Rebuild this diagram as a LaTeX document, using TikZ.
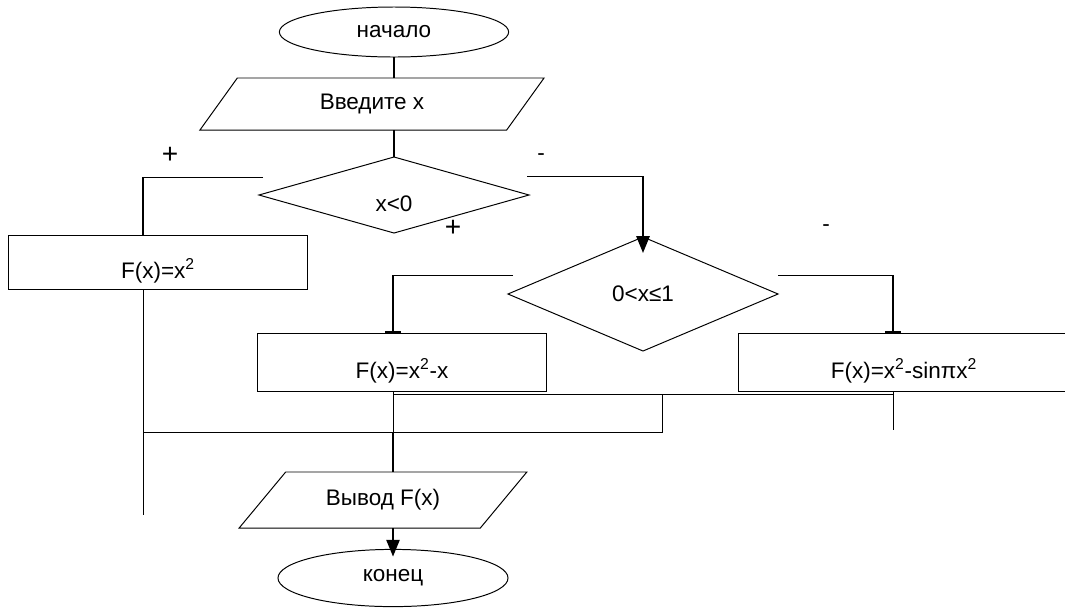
\documentclass[tikz,border=0pt]{standalone}
\usepackage{fontspec}
\setmainfont{Liberation Sans}
\usetikzlibrary{shapes.geometric,arrows.meta}

\begin{document}
\begin{tikzpicture}[x=0.025cm,y=-0.025cm,
    line width=0.7pt,
    every node/.style={font=\fontsize{16}{19}\selectfont},
    term/.style={ellipse,draw,minimum width=5.73cm,minimum height=1.25cm,inner sep=0pt,outer sep=0pt},
    io/.style={trapezium,draw,trapezium stretches=true,inner sep=0pt,outer sep=0pt},
    cond/.style={diamond,draw,aspect=3.5,minimum width=6.75cm,inner sep=0pt,outer sep=0pt},
    proc/.style={rectangle,draw,minimum height=1.45cm,inner sep=0pt,outer sep=0pt,text height=0.8cm,text depth=0pt},
    sign/.style={font=\fontsize{20}{24}\selectfont},
    flow/.style={line width=1.4pt},
    tip/.style={-{Triangle[length=0.42cm,width=0.33cm]}},
    tee/.style={-{Bar[width=0.4cm]}}
]
    \useasboundingbox (0,0) rectangle (1065,608);

    % blocks
    \node[term] (start) at (394,32) {начало};
    \node[io,trapezium left angle=54,trapezium right angle=126,minimum width=8.63cm,minimum height=1.3cm] (input) at (372,104) {Введите x};
    \node[cond,minimum height=1.9cm,text height=0.8cm,text depth=0pt] (cond1) at (394,195) {x<0};
    \node[proc,minimum width=7.45cm,minimum height=1.35cm] (f1) at (158,262) {F(x)=x\textsuperscript{2}};
    \node[cond,minimum height=2.85cm] (cond2) at (643,294) {0<x≤1};
    \node[proc,minimum width=7.23cm] (f2) at (402,362) {F(x)=x\textsuperscript{2}-x};
    \node[proc,minimum width=8.25cm] (f3) at (904,362) {F(x)=x\textsuperscript{2}-sinπx\textsuperscript{2}};
    \node[io,trapezium left angle=37.5,trapezium right angle=142.5,minimum width=7.2cm,minimum height=1.4cm] (output) at (383,500) {Вывод F(x)};
    \node[term,minimum width=5.75cm,minimum height=1.43cm] (end) at (393,578) {конец};

    % branch labels
    \node[sign] (plus1) at (170,155) {+};
    \node (minus1) at (541,157) {-};
    \node[sign] (plus2) at (453,228) {+};
    \node (minus2) at (826,228) {-};

    % junctions
    \coordinate (c1l) at (263,177);
    \coordinate (c1lc) at (143,177);
    \coordinate (c1r) at (527,176);
    \coordinate (c1rc) at (643,176);
    \coordinate (c2l) at (513,275);
    \coordinate (c2lc) at (393,275);
    \coordinate (c2r) at (778,275);
    \coordinate (c2rc) at (893,275);
    \coordinate (j1) at (893,394);
    \coordinate (j2) at (662,394);
    \coordinate (j3) at (662,432);
    \coordinate (j4) at (393,432);
    \coordinate (f1end) at (143,515);
    \coordinate (f3end) at (893,430);

    % connectors
    \draw[flow] (start.south) -- (start.south |- input.north);
    \draw[flow] (cond1.north |- input.south) -- (cond1.north);

    \draw (c1l) -- (c1lc);
    \draw[flow] (c1lc) -- (c1lc |- f1.north);
    \draw (c1r) -- (c1rc);
    \draw[flow,tip,shorten >=-0.4cm] (c1rc) -- (cond2.north);

    \draw (c2l) -- (c2lc);
    \draw[flow,tee] (c2lc) -- (c2lc |- f2.north);
    \draw (c2r) -- (c2rc);
    \draw[flow,tee] (c2rc) -- (c2rc |- f3.north);

    \draw (f1.south -| c1lc) -- (f1end);
    \draw (j4 -| c1lc) -- (j3) -- (j2);
    \draw (f2.south -| j4) -- (j4);
    \draw (j4 |- j1) -- (j1);
    \draw (f3.south -| j1) -- (f3end);
    \draw[flow] (j4) -- (j4 |- output.north);
    \draw[flow,tip,shorten >=-0.18cm] (end.north |- output.south) -- (end.north);
\end{tikzpicture}
\end{document}
